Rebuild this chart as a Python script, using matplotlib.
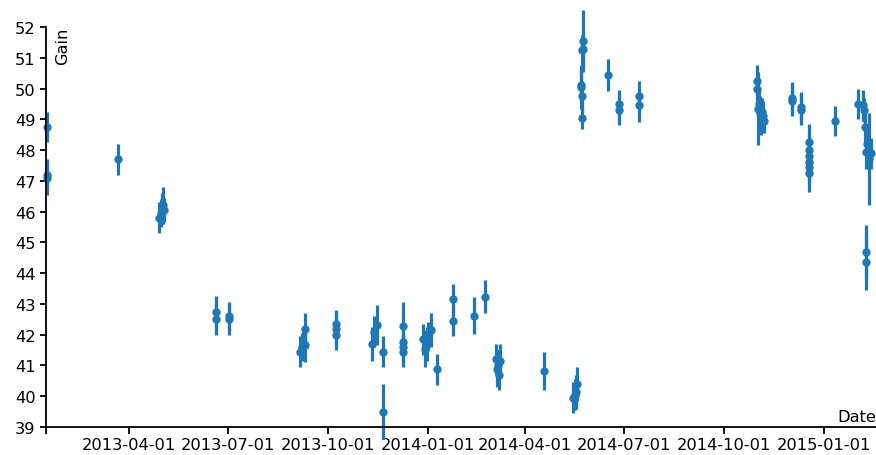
import matplotlib
matplotlib.use("Agg")
import matplotlib.pyplot as plt
import matplotlib.dates as mdates
import pandas as pd

dates = [
    "2013-01-15", "2013-01-15", "2013-01-15",
    "2013-03-22",
    "2013-04-29", "2013-04-30", "2013-05-01", "2013-05-02", "2013-05-03",
    "2013-06-20", "2013-06-20", "2013-07-02", "2013-07-02",
    "2013-09-05", "2013-09-07", "2013-09-08", "2013-09-10", "2013-09-10",
    "2013-10-09", "2013-10-09", "2013-10-09",
    "2013-11-11", "2013-11-13", "2013-11-15",
    "2013-11-21", "2013-11-21",
    "2013-12-09", "2013-12-09", "2013-12-09", "2013-12-09",
    "2013-12-28", "2013-12-30", "2013-12-31", "2014-01-01", "2014-01-04",
    "2014-01-10",
    "2014-01-24", "2014-01-24",
    "2014-02-13", "2014-02-23",
    "2014-03-05", "2014-03-06", "2014-03-07", "2014-03-08", "2014-03-09",
    "2014-04-18",
    "2014-05-15", "2014-05-17", "2014-05-18", "2014-05-19",
    "2014-05-22", "2014-05-22", "2014-05-23", "2014-05-23", "2014-05-23",
    "2014-05-24", "2014-05-24",
    "2014-06-16",
    "2014-06-26", "2014-06-26",
    "2014-07-15", "2014-07-15",
    "2014-10-31", "2014-10-31", "2014-11-01", "2014-11-02", "2014-11-03",
    "2014-11-04", "2014-11-05", "2014-11-06", "2014-11-07",
    "2014-12-03", "2014-12-03",
    "2014-12-11", "2014-12-11",
    "2014-12-18", "2014-12-18", "2014-12-18", "2014-12-18", "2014-12-18",
    "2014-12-18",
    "2015-01-11",
    "2015-02-01", "2015-02-06", "2015-02-07", "2015-02-08", "2015-02-09",
    "2015-02-09", "2015-02-09", "2015-02-10", "2015-02-11", "2015-02-12",
    "2015-02-13",
]
gain = [
    48.75, 47.2, 47.1,
    47.7,
    45.8, 45.95, 46.1, 46.2, 46.05,
    42.75, 42.5, 42.5, 42.6,
    41.45, 41.6, 41.75, 41.65, 42.2,
    42.35, 42.2, 42.0,
    41.7, 42.1, 42.3,
    41.45, 39.5,
    42.27, 41.77, 41.6, 41.45,
    41.85, 41.55, 41.7, 41.95, 42.15,
    40.88,
    43.15, 42.45,
    42.62, 43.24,
    41.2, 40.9, 41.0, 40.7, 41.15,
    40.83,
    39.95, 40.05, 40.15, 40.4,
    50.1, 50.05, 49.75, 49.05, 51.25,
    51.3, 51.55,
    50.44,
    49.5, 49.3,
    49.75, 49.45,
    50.25, 50.0, 49.35, 49.5, 49.2,
    49.0, 49.25, 49.1, 48.95,
    49.7, 49.6,
    49.4, 49.3,
    48.25, 48.0, 47.8, 47.6, 47.45,
    47.25,
    48.94,
    49.5, 49.45, 49.3, 48.75, 47.95,
    44.7, 44.35, 48.2, 48.0, 47.7,
    47.9,
]
gain_err = [
    0.5, 0.5, 0.55,
    0.5,
    0.5, 0.45, 0.5, 0.6, 0.4,
    0.5, 0.5, 0.5, 0.45,
    0.5, 0.45, 0.5, 0.55, 0.5,
    0.45, 0.5, 0.5,
    0.55, 0.5, 0.65,
    0.5, 0.9,
    0.8, 0.5, 0.5, 0.5,
    0.5, 0.6, 0.55, 0.45, 0.55,
    0.5,
    0.5, 0.5,
    0.6, 0.55,
    0.5, 0.6, 0.5, 0.5, 0.55,
    0.62,
    0.5, 0.5, 0.55, 0.55,
    0.5, 0.7, 0.5, 0.35, 0.5,
    0.6, 1.0,
    0.53,
    0.45, 0.5,
    0.5, 0.55,
    0.5, 0.5, 1.2, 0.5, 0.55,
    0.5, 0.45, 0.5, 0.4,
    0.5, 0.5,
    0.5, 0.5,
    0.6, 0.6, 0.6, 0.6, 0.6,
    0.6,
    0.48,
    0.5, 0.5, 0.4, 0.5, 0.55,
    0.85, 0.9, 0.5, 0.6, 1.5,
    0.5,
]
x_ticks = ["2013-04-01", "2013-07-01", "2013-10-01", "2014-01-01",
           "2014-04-01", "2014-07-01", "2014-10-01", "2015-01-01"]
y_ticks = list(range(39, 53))

x = pd.to_datetime(dates)
x_start = pd.Timestamp("2013-01-14")
x_end = pd.Timestamp("2015-02-18")

fig = plt.figure(figsize=(8.76, 4.56), dpi=100)
ax = fig.add_axes([45.5 / 876, 28 / 456, 1 - 45.5 / 876, 400 / 456])

ax.errorbar(x, gain, yerr=gain_err, fmt="o", ms=5, color="#1f77b4",
            elinewidth=2.3, capsize=0, clip_on=False)

ax.set_xlim(x_start, x_end)
ax.set_ylim(39, 52)
ax.set_yticks(y_ticks)
ax.set_xticks(pd.to_datetime(x_ticks))
ax.xaxis.set_major_formatter(mdates.DateFormatter("%Y-%m-%d"))
# outer tick at the left end of the x axis (d3 style domain path)
ax.set_xticks([mdates.date2num(x_start)], minor=True)

for s in ["top", "right"]:
    ax.spines[s].set_visible(False)
for s in ["left", "bottom"]:
    ax.spines[s].set_linewidth(1.3)

ax.tick_params(axis="both", which="both", length=6.5 * 0.72, width=1.3,
               labelsize=11.7, pad=2.5, color="black")

ax.text(0.021, 1.0, "Gain", rotation=90, transform=ax.transAxes,
        ha="center", va="top", fontsize=11.7)
ax.annotate("Date", xy=(1.0, 0.0), xycoords="axes fraction",
            xytext=(0, 4.3), textcoords="offset points",
            ha="right", va="baseline", fontsize=11.7)

fig.savefig("out.png", dpi=100)
